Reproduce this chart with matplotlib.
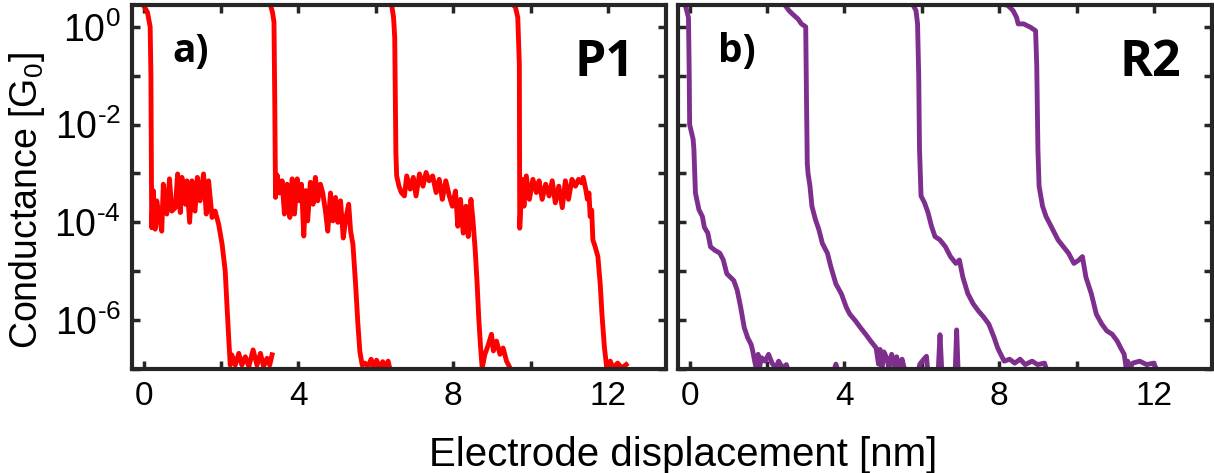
import numpy as np
import matplotlib
matplotlib.use('Agg')
import matplotlib.pyplot as plt
from matplotlib import font_manager

# pick a condensed sans if present
installed = {f.name for f in font_manager.fontManager.ttflist}
narrow = 'Liberation Sans Narrow' if 'Liberation Sans Narrow' in installed else 'Liberation Sans'
plt.rcParams['font.family'] = [narrow, 'DejaVu Sans']
plt.rcParams['axes.unicode_minus'] = False
plt.rcParams['mathtext.fontset'] = 'custom'
plt.rcParams['mathtext.rm'] = narrow
plt.rcParams['mathtext.it'] = narrow

# conductance traces: (displacement [nm], log10 G/G0)
trace_a1 = [(-0.01, 0.45), (0.1, 0.3), (0.17, 0.0), (0.19, -1.0), (0.21, -4.11), (0.25, -3.35),
            (0.30, -4.14), (0.34, -3.56), (0.41, -3.9), (0.47, -4.18), (0.51, -3.22), (0.60, -3.83),
            (0.67, -3.11), (0.73, -3.77), (0.82, -3.7), (0.88, -3.01), (0.95, -3.8), (0.99, -3.08),
            (1.08, -3.63), (1.12, -3.15), (1.19, -4.0), (1.25, -3.15), (1.33, -3.77), (1.39, -3.08),
            (1.46, -3.56), (1.55, -3.01), (1.62, -3.83), (1.68, -3.15), (1.77, -3.9), (1.85, -3.77),
            (1.94, -4.04), (2.03, -4.45), (2.11, -5.0), (2.15, -5.62), (2.20, -6.37), (2.24, -6.92),
            (2.28, -6.71), (2.37, -6.92), (2.46, -6.68), (2.54, -6.92), (2.63, -6.75), (2.72, -6.95),
            (2.83, -6.61), (2.93, -6.92), (3.02, -6.68), (3.10, -6.95), (3.19, -6.78), (3.26, -6.92),
            (3.32, -6.71)]
trace_a2 = [(3.27, 0.47), (3.33, 0.3), (3.37, 0.1), (3.39, -1.5), (3.41, -3.49), (3.45, -3.03),
            (3.52, -3.4), (3.58, -3.15), (3.64, -3.83), (3.71, -3.22), (3.78, -3.9), (3.84, -3.11),
            (3.9, -3.83), (3.97, -3.11), (4.03, -3.56), (4.08, -3.22), (4.14, -4.28), (4.19, -3.35),
            (4.24, -3.97), (4.31, -3.18), (4.38, -3.63), (4.44, -3.08), (4.5, -3.56), (4.57, -3.22),
            (4.63, -3.4), (4.7, -3.77), (4.76, -4.18), (4.83, -3.4), (4.89, -3.97), (4.96, -3.49),
            (5.02, -4.0), (5.09, -3.56), (5.16, -4.32), (5.23, -3.9), (5.3, -3.63), (5.35, -4.18),
            (5.41, -4.45), (5.48, -5.28), (5.54, -6.1), (5.59, -6.65), (5.65, -6.92), (5.72, -6.88),
            (5.8, -6.95), (5.88, -6.8), (5.95, -6.97), (6.02, -6.82), (6.1, -6.98), (6.18, -6.85),
            (6.25, -6.98), (6.32, -6.84), (6.36, -6.98)]
trace_a3 = [(6.4, 0.5), (6.46, 0.19), (6.49, -0.22), (6.52, -2.57), (6.54, -3.05), (6.6, -3.26),
            (6.66, -3.39), (6.74, -3.46), (6.8, -3.05), (6.89, -3.32), (6.97, -3.08), (7.04, -3.46),
            (7.13, -3.01), (7.22, -3.26), (7.3, -2.98), (7.38, -3.15), (7.47, -3.05), (7.56, -3.39),
            (7.64, -3.12), (7.72, -3.53), (7.81, -3.15), (7.9, -3.46), (7.98, -3.67), (8.06, -3.36),
            (8.12, -4.08), (8.19, -3.53), (8.26, -4.22), (8.33, -3.67), (8.39, -4.29), (8.46, -3.53),
            (8.51, -3.94), (8.57, -4.57), (8.62, -5.26), (8.66, -5.94), (8.71, -6.57), (8.75, -6.98),
            (8.82, -6.7), (8.91, -6.5), (8.99, -6.29), (9.04, -6.63), (9.12, -6.43), (9.21, -6.7),
            (9.29, -6.57), (9.38, -6.84), (9.47, -6.98)]
trace_a4 = [(9.49, 0.5), (9.61, 0.4), (9.67, 0.19), (9.71, -0.77), (9.72, -4.12), (9.78, -3.12),
            (9.83, -3.67), (9.89, -3.05), (9.97, -3.53), (10.06, -3.12), (10.15, -3.39), (10.22, -3.15),
            (10.3, -3.53), (10.39, -3.22), (10.48, -3.46), (10.56, -3.15), (10.64, -3.6), (10.73, -3.26),
            (10.82, -3.7), (10.9, -3.15), (10.98, -3.53), (11.07, -3.12), (11.16, -3.26), (11.24, -3.12),
            (11.31, -3.19), (11.36, -3.08), (11.42, -3.3), (11.47, -3.53), (11.51, -3.4), (11.54, -3.88),
            (11.58, -3.75), (11.61, -4.36), (11.67, -4.5), (11.74, -4.7), (11.8, -5.26), (11.85, -5.94),
            (11.91, -6.57), (11.97, -6.98), (12.06, -6.84), (12.13, -6.98), (12.25, -6.88), (12.36, -6.98),
            (12.47, -6.91)]

trace_b1 = [(-0.12, 0.47), (-0.03, 0.19), (-0.01, -1.0), (0.0, -2.0), (0.06, -2.2), (0.09, -2.3),
            (0.11, -2.5), (0.15, -3.4), (0.24, -3.74), (0.33, -3.88), (0.38, -4.1), (0.47, -4.22),
            (0.54, -4.5), (0.65, -4.57), (0.78, -4.63), (0.87, -4.77), (0.96, -5.05), (1.05, -5.12),
            (1.14, -5.19), (1.23, -5.39), (1.32, -5.74), (1.41, -6.15), (1.5, -6.36), (1.59, -6.5),
            (1.63, -6.63), (1.68, -6.84), (1.72, -6.98), (1.77, -6.7), (1.81, -6.95), (1.86, -6.77),
            (1.95, -6.84), (2.04, -6.7), (2.13, -6.88), (2.22, -6.98), (2.3, -6.84), (2.4, -6.98),
            (2.5, -6.91), (2.57, -7.1), (3.7, -7.1), (3.78, -6.9), (3.85, -7.1)]
trace_b2 = [(2.44, 0.47), (2.57, 0.33), (2.66, 0.26), (2.8, 0.16), (2.89, 0.06), (3.0, 0.0),
            (3.02, -1.5), (3.04, -2.8), (3.06, -3.0), (3.11, -3.26), (3.16, -3.67), (3.25, -3.94),
            (3.34, -4.15), (3.43, -4.43), (3.56, -4.63), (3.65, -4.91), (3.78, -5.26), (3.92, -5.46),
            (4.05, -5.74), (4.14, -5.88), (4.28, -6.01), (4.41, -6.15), (4.55, -6.29), (4.68, -6.43),
            (4.82, -6.57), (4.88, -6.9), (4.92, -6.6), (4.97, -6.98), (5.02, -6.65), (5.09, -6.77),
            (5.15, -6.98), (5.22, -6.7), (5.3, -6.95), (5.35, -6.75), (5.42, -6.98), (5.49, -6.8),
            (5.58, -7.1), (5.89, -7.1), (5.95, -6.9), (6.05, -6.8), (6.12, -6.74), (6.16, -7.1),
            (6.42, -7.1), (6.47, -6.3), (6.52, -7.1), (6.86, -7.1), (6.9, -6.2), (6.94, -7.1)]
trace_b3 = [(5.76, 0.47), (5.85, 0.33), (5.89, 0.06), (5.92, -1.0), (5.94, -2.5), (5.98, -3.46),
            (6.07, -3.6), (6.16, -3.8), (6.25, -4.08), (6.34, -4.29), (6.47, -4.36), (6.61, -4.5),
            (6.74, -4.7), (6.88, -4.84), (6.97, -4.77), (7.06, -5.12), (7.19, -5.46), (7.33, -5.67),
            (7.46, -5.81), (7.6, -5.94), (7.73, -6.08), (7.87, -6.36), (7.96, -6.57), (8.04, -6.7),
            (8.13, -6.84), (8.27, -6.8), (8.4, -6.88), (8.54, -6.8), (8.67, -6.91), (8.85, -6.84),
            (8.99, -6.91), (9.17, -6.88), (9.26, -7.1)]
trace_b4 = [(8.04, 0.47), (8.22, 0.44), (8.36, 0.33), (8.45, 0.19), (8.49, 0.06), (8.63, 0.06),
            (8.81, -0.01), (8.94, -0.08), (8.97, -0.8), (9.0, -2.5), (9.03, -3.26), (9.12, -3.67),
            (9.21, -3.88), (9.34, -4.08), (9.43, -4.22), (9.52, -4.36), (9.66, -4.5), (9.79, -4.63),
            (9.93, -4.84), (10.06, -4.77), (10.15, -4.7), (10.24, -5.12), (10.38, -5.46), (10.51, -5.88),
            (10.65, -6.08), (10.78, -6.22), (10.92, -6.29), (11.05, -6.43), (11.14, -6.57), (11.23, -6.7),
            (11.28, -6.98), (11.32, -6.84), (11.38, -6.98), (11.45, -6.88), (11.63, -6.84), (11.81, -6.91),
            (11.99, -6.88), (12.12, -7.1)]

panel_a = [trace_a1, trace_a2, trace_a3, trace_a4]
panel_b = [trace_b1, trace_b2, trace_b3, trace_b4]

decades = [-7, -6, -5, -4, -3, -2, -1, 0]
# hyphen (U+2010) keeps the short dash in the exponents
ytick_text = ['', '$10^{\u20106}$', '', '$10^{\u20104}$', '', '$10^{\u20102}$', '', '$10^{0}$']
xticks = [0, 2, 4, 6, 8, 10, 12]
xtick_text = ['0', '', '4', '', '8', '', '12']

fig = plt.figure(figsize=(12.14, 4.73), dpi=100)
ax1 = fig.add_axes([0.1087, 0.2199, 0.4399, 0.7696])
ax2 = fig.add_axes([0.5585, 0.2199, 0.4399, 0.7696])

for ax, traces, color, tag, name in [(ax1, panel_a, '#FF0000', 'a)', 'P1'),
                                     (ax2, panel_b, '#7E2F8E', 'b)', 'R2')]:
    for tr in traces:
        x, g = np.array(tr).T
        ax.plot(x, np.power(10.0, g), color=color, lw=3.5, solid_joinstyle='round')
    ax.set_yscale('log')
    ax.set_xlim(-0.3, 13.5)
    ax.set_ylim(1e-7, 2.8)
    ax.set_yticks([10.0 ** d for d in decades])
    ax.minorticks_off()
    ax.set_xticks(xticks)
    ax.set_xticklabels(xtick_text)
    ax.tick_params(direction='in', length=6, width=2.5, color='#262626',
                   top=True, right=True, labelsize=24, pad=9)
    ax.tick_params(axis='y', labelsize=27, pad=8)
    for sp in ax.spines.values():
        sp.set_linewidth(3)
        sp.set_color('#262626')
    ax.text(0.11, 0.872, tag, transform=ax.transAxes, ha='center', va='center',
            fontsize=28, fontweight='bold', family='Open Sans')
    ax.text(0.885, 0.84, name, transform=ax.transAxes, ha='center', va='center',
            fontsize=36, fontweight='bold', family='Open Sans')

ax1.set_yticklabels(ytick_text)
ax2.set_yticklabels([])

fig.text(0.022, 0.575, r'Conductance [G$_\mathregular{0}$]', rotation=90,
         ha='center', va='center', fontsize=27)
fig.text(0.563, 0.038, 'Electrode displacement [nm]', ha='center', va='center', fontsize=29)

fig.savefig('out.png', dpi=100)
